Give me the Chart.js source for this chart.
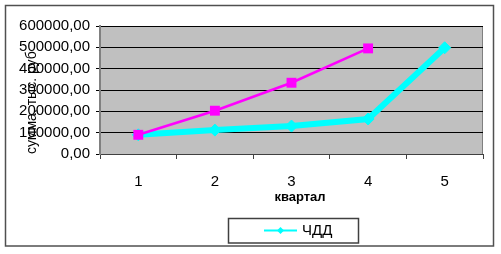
<!DOCTYPE html>
<html>
<head>
<meta charset="utf-8">
<script src="https://cdn.jsdelivr.net/npm/chart.js@4/dist/chart.umd.min.js"></script>
<style>
  body { margin: 0; background: #fff; }
  canvas { display: block; }
</style>
</head>
<body>
<canvas id="chart-area" width="501" height="254"></canvas>
<script>
var quarters = ['1', '2', '3', '4', '5'];
var chddValues = [90000, 112000, 131000, 164000, 498000];
var otherValues = [90000, 203000, 334000, 495000, null];
var yTicks = [0, 100000, 200000, 300000, 400000, 500000, 600000];

var yTitle = 'сумма, тыс. руб';
var xTitle = 'квартал';
var FONT = '"Liberation Sans", Arial, sans-serif';

function fmt(v) {
  return v.toFixed(2).replace('.', ',');
}

var framePlugin = {
  id: 'frame',
  beforeDraw: function (chart) {
    var ctx = chart.ctx, a = chart.chartArea;
    ctx.save();
    ctx.fillStyle = '#fff';
    ctx.fillRect(0, 0, chart.width, chart.height);
    ctx.strokeStyle = '#505050';
    ctx.lineWidth = 1.5;
    ctx.strokeRect(5.5, 5.5, 488, 240.5);
    ctx.fillStyle = '#c0c0c0';
    ctx.fillRect(a.left, a.top, a.right - a.left, a.bottom - a.top);
    ctx.strokeStyle = '#808080';
    ctx.lineWidth = 1;
    ctx.beginPath();
    ctx.moveTo(a.left, a.top + 0.5);
    ctx.lineTo(a.right - 0.5, a.top + 0.5);
    ctx.lineTo(a.right - 0.5, a.bottom);
    ctx.stroke();
    ctx.restore();
  },
  afterDraw: function (chart) {
    var ctx = chart.ctx;
    ctx.save();
    // x axis title
    ctx.fillStyle = '#000';
    ctx.font = 'bold 13px ' + FONT;
    ctx.textAlign = 'center';
    ctx.textBaseline = 'middle';
    ctx.fillText(xTitle, 300, 197);
    // legend
    ctx.fillStyle = '#fff';
    ctx.fillRect(228, 218, 131, 25);
    ctx.strokeStyle = '#404040';
    ctx.lineWidth = 1.5;
    ctx.strokeRect(228.5, 218.5, 130, 24.5);
    var ds = chart.data.datasets[1];
    ctx.strokeStyle = ds.borderColor;
    ctx.lineWidth = 2;
    ctx.beginPath();
    ctx.moveTo(264, 230.5);
    ctx.lineTo(297, 230.5);
    ctx.stroke();
    ctx.fillStyle = ds.borderColor;
    ctx.beginPath();
    ctx.moveTo(280.5, 227);
    ctx.lineTo(284, 230.5);
    ctx.lineTo(280.5, 234);
    ctx.lineTo(277, 230.5);
    ctx.closePath();
    ctx.fill();
    ctx.fillStyle = '#000';
    ctx.font = '15px ' + FONT;
    ctx.textAlign = 'left';
    ctx.fillText(ds.label, 302, 231);
    ctx.restore();
  }
};

var config = {
  type: 'line',
  data: {
    labels: quarters,
    datasets: [{
      label: '',
      data: otherValues,
      borderColor: '#ff00ff',
      backgroundColor: '#ff00ff',
      borderWidth: 2.5,
      pointStyle: 'rect',
      pointRadius: 7,
      pointBorderWidth: 0,
      tension: 0
    }, {
      label: 'ЧДД',
      data: chddValues,
      borderColor: '#00ffff',
      backgroundColor: '#00ffff',
      borderWidth: 6,
      pointStyle: 'rectRot',
      pointRadius: 6,
      pointBorderWidth: 1,
      tension: 0
    }]
  },
  options: {
    responsive: false,
    animation: false,
    layout: { padding: { left: 0, top: 26, right: 18, bottom: 0 } },
    plugins: {
      legend: { display: false },
      tooltip: { enabled: false }
    },
    scales: {
      x: {
        offset: true,
        grid: {
          offset: true,
          drawOnChartArea: false,
          drawTicks: true,
          tickLength: 5,
          color: '#404040'
        },
        border: { color: '#404040', width: 1 },
        ticks: {
          color: '#000',
          font: { family: FONT, size: 15 },
          padding: 14,
          maxRotation: 0
        },
        afterFit: function (scale) { scale.height = 100; }
      },
      y: {
        min: 0,
        max: 600000,
        afterBuildTicks: function (scale) {
          scale.ticks = yTicks.map(function (v) { return { value: v }; });
        },
        grid: {
          color: '#000',
          lineWidth: 1,
          tickLength: 4
        },
        border: { color: '#808080', width: 2 },
        ticks: {
          color: '#000',
          font: { family: FONT, size: 15 },
          padding: 6,
          callback: function (v) { return fmt(v); }
        },
        title: {
          display: true,
          text: yTitle,
          align: 'start',
          color: '#000',
          font: { family: FONT, size: 14 },
          padding: { top: 24, bottom: 0 }
        },
        afterFit: function (scale) { scale.width = 100; }
      }
    }
  },
  plugins: [framePlugin]
};

var ctx = document.getElementById('chart-area').getContext('2d');
var myChart = new Chart(ctx, config);
</script>
</body>
</html>
